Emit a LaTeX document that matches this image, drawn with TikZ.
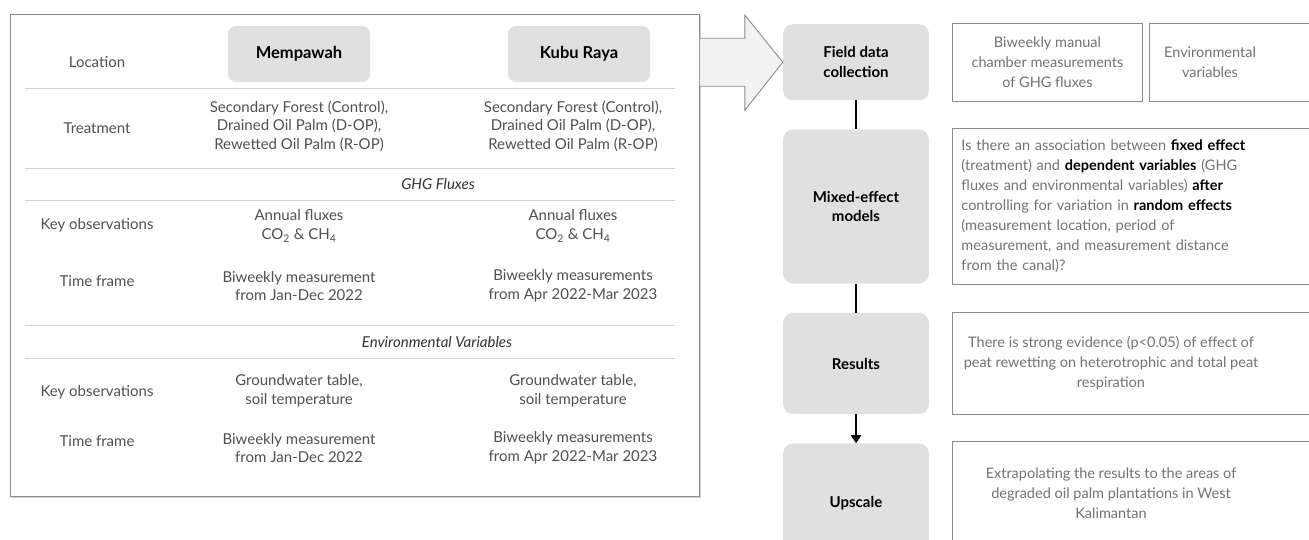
\documentclass[tikz,border=0pt]{standalone}
\usepackage{fontspec}
\setmainfont{Lato}
\usepackage{xcolor}
\usepackage{tikz}
\usetikzlibrary{shapes.geometric, arrows.meta, positioning}

\definecolor{boxgrey}{HTML}{E0E0E0}
\definecolor{rulegrey}{HTML}{D2D2D2}
\definecolor{framegrey}{HTML}{8C8C8C}
\definecolor{textgrey}{HTML}{505050}
\definecolor{softgrey}{HTML}{727272}
\definecolor{arrowfill}{HTML}{F2F2F2}

\newcommand{\keyterm}[1]{\textbf{\color{black}#1}}

\begin{document}
\begin{tikzpicture}[x=1pt, y=-1pt, node distance=29pt,
    every node/.style={font=\fontsize{15}{18.5}\selectfont, text=textgrey},
    site/.style={rectangle, fill=boxgrey, rounded corners=8pt, minimum width=142pt, minimum height=56pt, font=\fontsize{16.5}{18}\selectfont\bfseries, text=black},
    cell/.style={align=center},
    section/.style={font=\fontsize{15}{18}\selectfont\itshape, text=black!80},
    stage/.style={rectangle, fill=boxgrey, rounded corners=10pt, minimum width=146pt, align=center, font=\fontsize{15}{19.5}\selectfont\bfseries, text=black},
    infobox/.style={rectangle, draw=framegrey, line width=0.9pt, inner sep=9pt, anchor=north west},
    info/.style={font=\fontsize{14.5}{20}\selectfont, text=softgrey, align=center},
    line/.style={draw, line width=2.6pt},
    rule/.style={draw=rulegrey, line width=0.8pt}]

    \useasboundingbox (0,0) rectangle (1309,539);

    % study design table
    \fill[black!18] (12,16) rectangle (701,498);
    \node [rectangle, draw=framegrey, fill=white, line width=0.9pt, minimum width=689pt, minimum height=482pt, anchor=north west] (table) at (10,14) {};
    \foreach \y in {88,168,200,325,358}
        \draw[rule] (25,\y) -- (675,\y);

    \node (loc) at (97,62) {Location};
    \node [site] (mempawah) at (299,54) {Mempawah};
    \node [site] (kuburaya) at (579,54) {Kubu Raya};

    \node (treat) at (97,128) {Treatment};
    \node [cell] (treatm) at (299,126) {Secondary Forest (Control),\\Drained Oil Palm (D-OP),\\Rewetted Oil Palm (R-OP)};
    \node [cell] (treatk) at (573,126) {Secondary Forest (Control),\\Drained Oil Palm (D-OP),\\Rewetted Oil Palm (R-OP)};

    \node [section] (ghg) at (438,184) {GHG Fluxes};
    \node (ghgobs) at (97,225) {Key observations};
    \node [cell] (ghgobsm) at (299,226) {Annual fluxes\\CO\textsubscript{2} \& CH\textsubscript{4}};
    \node [cell] (ghgobsk) at (573,226) {Annual fluxes\\CO\textsubscript{2} \& CH\textsubscript{4}};
    \node (ghgtime) at (97,281) {Time frame};
    \node [cell] (ghgtimem) at (299,286) {Biweekly measurement\\from Jan-Dec 2022};
    \node [cell] (ghgtimek) at (573,286) {Biweekly measurements\\from Apr 2022-Mar 2023};

    \node [section] (env) at (437,342) {Environmental Variables};
    \node (envobs) at (97,392) {Key observations};
    \node [cell] (envobsm) at (299,391) {Groundwater table,\\soil temperature};
    \node [cell] (envobsk) at (573,391) {Groundwater table,\\soil temperature};
    \node (envtime) at (97,441) {Time frame};
    \node [cell] (envtimem) at (299,448) {Biweekly measurement\\from Jan-Dec 2022};
    \node [cell] (envtimek) at (573,448) {Biweekly measurements\\from Apr 2022-Mar 2023};

    % analysis steps
    \node [stage, minimum height=76pt, anchor=north] (field) at (856,24) {Field data\\collection};
    \node [stage, minimum height=154pt, below=of field] (mixed) {Mixed-effect\\models};
    \node [stage, minimum height=101pt, below=of mixed] (results) {Results};
    \node [stage, minimum height=120pt, below=of results] (upscale) {Upscale};

    \path [line] (field) -- (mixed);
    \path [line] (mixed) -- (results);
    \path [line, -{Triangle[width=10pt, length=8pt]}] (results) -- (upscale);

    % block arrow from table to first step
    \coordinate (tail) at (table.east |- field.west);
    \fill[arrowfill] (tail) ++(0,-24) -- ++(45,0) -- ++(0,-23) -- (field.west)
        -- ([shift={(45,48)}]tail) -- ([shift={(45,24)}]tail) -- ([shift={(0,24)}]tail) -- cycle;
    \draw[framegrey, line width=0.9pt, line join=miter] ([shift={(0,-24)}]tail) -- ++(45,0) -- ++(0,-23) -- (field.west)
        -- ([shift={(45,48)}]tail) -- ([shift={(45,24)}]tail) -- ([shift={(0,24)}]tail);

    % descriptions
    \node [infobox, info, minimum width=190pt, minimum height=78pt] (chamber) at (952,23) {Biweekly manual\\chamber measurements\\of GHG fluxes};
    \node [infobox, minimum width=172pt, minimum height=78pt] (envbox) at (1149,23) {};
    \node [info] (envtext) at ([xshift=61pt]envbox.west) {Environmental\\variables};
    \node [infobox, info, align=left, text width=352pt, minimum height=156pt] (question) at (952,128) {Is there an association between \keyterm{fixed effect}\\(treatment) and \keyterm{dependent variables} (GHG\\fluxes and environmental variables) \keyterm{after}\\controlling for variation in \keyterm{random effects}\\(measurement location, period of\\measurement, and measurement distance\\from the canal)?};
    \node [infobox, minimum width=372pt, minimum height=102pt] (resbox) at (952,312) {};
    \node [info] (restext) at ([xshift=159pt]resbox.west) {There is strong evidence (p<0.05) of effect of\\peat rewetting on heterotrophic and total peat\\respiration};
    \node [infobox, minimum width=372pt, minimum height=120pt] (upbox) at (952,441) {};
    \node [info] (uptext) at ([xshift=159pt, yshift=8pt]upbox.west) {Extrapolating the results to the areas of\\degraded oil palm plantations in West\\Kalimantan};
\end{tikzpicture}
\end{document}
